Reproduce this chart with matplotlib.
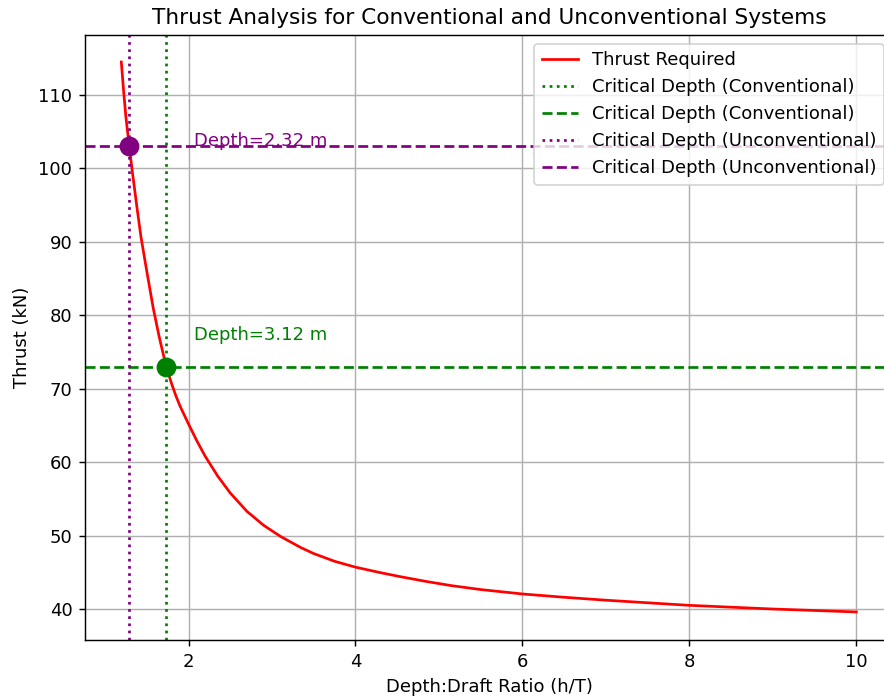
import matplotlib
matplotlib.use("Agg")
import matplotlib.pyplot as plt

# thrust curve (depth:draft ratio vs thrust in kN)
ratio = [1.195, 1.225, 1.25, 1.29, 1.33, 1.38, 1.43, 1.50, 1.577, 1.65,
         1.733, 1.80, 1.85, 1.90, 2.00, 2.10, 2.20, 2.35, 2.50, 2.70,
         2.90, 3.10, 3.34, 3.50, 3.75, 4.00, 4.30, 4.54, 4.85, 5.14,
         5.50, 6.00, 6.50, 7.00, 7.50, 8.00, 8.50, 9.00, 9.50, 10.00]
thrust = [114.5, 110.2, 107.0, 103.0, 99.3, 94.9, 90.7, 86.0, 81.0, 77.0,
          73.0, 70.6, 69.0, 67.6, 65.2, 62.9, 60.8, 58.1, 55.8, 53.3,
          51.4, 49.9, 48.4, 47.55, 46.5, 45.7, 44.95, 44.4, 43.75, 43.2,
          42.65, 42.05, 41.6, 41.2, 40.85, 40.5, 40.25, 40.0, 39.8, 39.6]

draft = 1.8
depth_conv = 3.12
depth_unconv = 2.32
thrust_conv = 73.0
thrust_unconv = 103.0

x_conv = depth_conv / draft
x_unconv = depth_unconv / draft

fig = plt.figure(figsize=(884 / 130, 700 / 130), dpi=130)
ax = fig.add_axes([85 / 884, 60 / 700, 808 / 884, 605 / 700])

ax.plot(ratio, thrust, color="red", label="Thrust Required")
ax.axvline(x_conv, color="green", linestyle=":", label="Critical Depth (Conventional)")
ax.axhline(thrust_conv, color="green", linestyle="--", label="Critical Depth (Conventional)")
ax.axvline(x_unconv, color="purple", linestyle=":", label="Critical Depth (Unconventional)")
ax.axhline(thrust_unconv, color="purple", linestyle="--", label="Critical Depth (Unconventional)")

ax.plot(x_conv, thrust_conv, "o", color="green", markersize=10)
ax.plot(x_unconv, thrust_unconv, "o", color="purple", markersize=10)

ax.text(2.07, 76.7, f"Depth={depth_conv:.2f} m", color="green", fontsize=10)
ax.text(2.06, 103.1, f"Depth={depth_unconv:.2f} m", color="purple", fontsize=10)

ax.set_xlim(0.76, 10.44)
ax.set_ylim(35.78, 118.17)
ax.set_xlabel("Depth:Draft Ratio (h/T)")
ax.set_ylabel("Thrust (kN)")
ax.set_title("Thrust Analysis for Conventional and Unconventional Systems")
ax.legend(loc="upper right")
ax.grid(True)

fig.savefig("out.png", dpi=130)
